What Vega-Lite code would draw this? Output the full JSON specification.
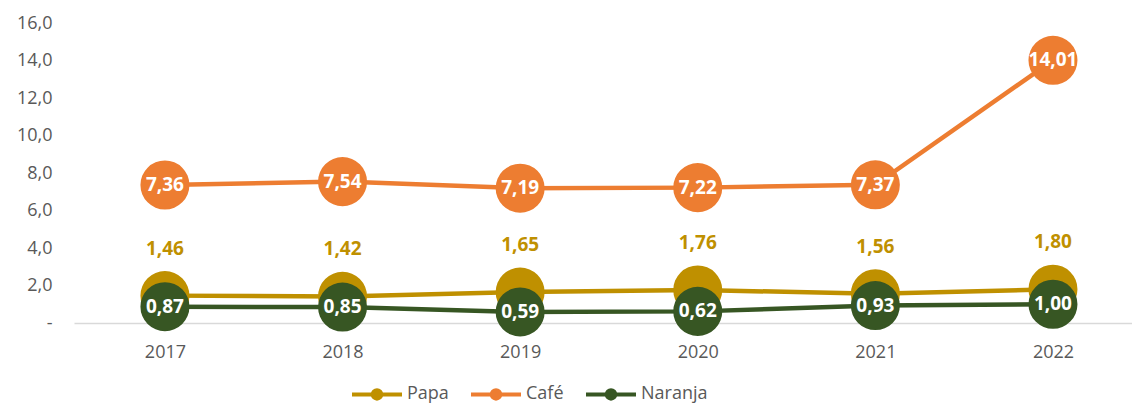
{
  "$schema": "https://vega.github.io/schema/vega-lite/v6.json",
  "width": 1058,
  "height": 300,
  "autosize": {"type": "none"},
  "padding": {"left": 74, "top": 23, "right": 0, "bottom": 82},
  "background": "white",
  "config": {
    "locale": {"number": {"decimal": ",", "thousands": ".", "grouping": [3], "currency": ["", " €"]}},
    "view": {"stroke": null},
    "font": "Open Sans"
  },
  "data": {
    "values": [
      {"year": 2017, "series": "Papa", "value": 1.46},
      {"year": 2018, "series": "Papa", "value": 1.42},
      {"year": 2019, "series": "Papa", "value": 1.65},
      {"year": 2020, "series": "Papa", "value": 1.76},
      {"year": 2021, "series": "Papa", "value": 1.56},
      {"year": 2022, "series": "Papa", "value": 1.80},
      {"year": 2017, "series": "Café", "value": 7.36},
      {"year": 2018, "series": "Café", "value": 7.54},
      {"year": 2019, "series": "Café", "value": 7.19},
      {"year": 2020, "series": "Café", "value": 7.22},
      {"year": 2021, "series": "Café", "value": 7.37},
      {"year": 2022, "series": "Café", "value": 14.01},
      {"year": 2017, "series": "Naranja", "value": 0.87},
      {"year": 2018, "series": "Naranja", "value": 0.85},
      {"year": 2019, "series": "Naranja", "value": 0.59},
      {"year": 2020, "series": "Naranja", "value": 0.62},
      {"year": 2021, "series": "Naranja", "value": 0.93},
      {"year": 2022, "series": "Naranja", "value": 1.00}
    ]
  },
  "encoding": {
    "x": {
      "field": "year",
      "type": "quantitative",
      "scale": {"domain": [2016.488, 2022.445], "nice": false, "zero": false},
      "axis": {
        "values": [2017, 2018, 2019, 2020, 2021, 2022],
        "format": "d",
        "title": null,
        "grid": false,
        "ticks": false,
        "domainColor": "#d9d9d9",
        "domainWidth": 1.5,
        "labelPadding": 20,
        "labelFontSize": 18,
        "labelColor": "#595959"
      }
    },
    "y": {
      "field": "value",
      "type": "quantitative",
      "scale": {"domain": [0, 16], "nice": false},
      "axis": {
        "values": [0, 2, 4, 6, 8, 10, 12, 14, 16],
        "format": ".1f",
        "labelExpr": "datum.value == 0 ? '-' : datum.label",
        "title": null,
        "grid": false,
        "ticks": false,
        "domain": false,
        "labelPadding": 22,
        "labelFontSize": 18,
        "labelColor": "#595959"
      }
    },
    "color": {
      "field": "series",
      "type": "nominal",
      "scale": {"domain": ["Papa", "Café", "Naranja"], "range": ["#BF9000", "#ED7D31", "#375623"]},
      "legend": {
        "orient": "none",
        "legendX": 276,
        "legendY": 344,
        "direction": "horizontal",
        "title": null,
        "symbolType": "M -1 0 L 1 0 M -0.17 0 A 0.17 0.17 0 1 0 0.17 0 A 0.17 0.17 0 1 0 -0.17 0 Z",
        "symbolSize": 2500,
        "symbolStrokeWidth": 4,
        "symbolOpacity": 1,
        "labelFontSize": 18,
        "labelColor": "#595959",
        "labelOffset": 3,
        "columnPadding": 14,
        "encode": {
          "symbols": {
            "update": {
              "fill": {"scale": "color", "field": "value"},
              "stroke": {"scale": "color", "field": "value"}
            }
          }
        }
      }
    }
  },
  "layer": [
    {"mark": {"type": "line", "strokeWidth": 4.5}},
    {"mark": {"type": "point", "filled": true, "size": 2400, "opacity": 1, "shape": "circle"}},
    {
      "transform": [{"filter": "datum.series == 'Papa'"}],
      "mark": {"type": "text", "dy": -47, "fontWeight": "bold", "fontSize": 19, "baseline": "middle"},
      "encoding": {
        "text": {"field": "value", "type": "quantitative", "format": ".2f"},
        "color": {"value": "#BF9000"}
      }
    },
    {
      "transform": [{"filter": "datum.series != 'Papa'"}],
      "mark": {"type": "text", "fontWeight": "bold", "fontSize": 19, "baseline": "middle"},
      "encoding": {
        "text": {"field": "value", "type": "quantitative", "format": ".2f"},
        "color": {"value": "white"}
      }
    }
  ]
}
